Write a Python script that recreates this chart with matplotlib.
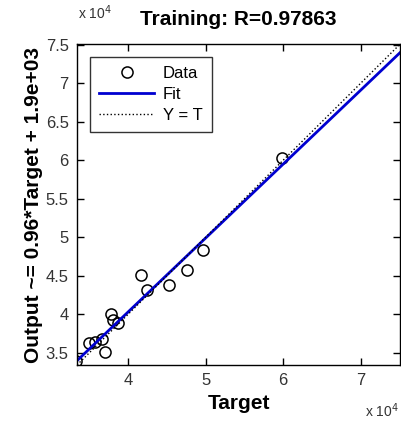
import matplotlib
matplotlib.use("Agg")
import matplotlib.pyplot as plt
import numpy as np
from matplotlib.ticker import FuncFormatter

plt.rcParams['font.family'] = ['Liberation Sans', 'DejaVu Sans']

# targets and network outputs
targets = [33300, 35000, 35700, 36600, 37000, 37750, 38000, 38700,
           41650, 42400, 45300, 47600, 49650, 59800]
outputs = [33900, 36300, 36400, 36800, 35100, 40000, 39200, 38900,
           45100, 43100, 43760, 45800, 48400, 60300]
slope = 0.96
offset = 1.9e3
r_value = 0.97863
lims = [33400, 75100]
xticks = [40000, 50000, 60000, 70000]
yticks = [35000, 40000, 45000, 50000, 55000, 60000, 65000, 70000, 75000]

fig = plt.figure(figsize=(4.01, 4.23), dpi=100)
ax = fig.add_axes([0.192, 0.137, 0.806, 0.759])

line_x = np.array(lims)
ax.plot(targets, outputs, 'o', mfc='none', mec='black', ms=8, mew=1.1, label='Data')
ax.plot(line_x, slope * line_x + offset, color='#0000d0', lw=2, label='Fit')
ax.plot(line_x, line_x, ':', color='black', lw=1, label='Y = T')

ax.set_xlim(lims)
ax.set_ylim(lims)
ax.set_xticks(xticks)
ax.set_yticks(yticks)
fmt = FuncFormatter(lambda v, p: '%g' % (v / 1e4))
ax.xaxis.set_major_formatter(fmt)
ax.yaxis.set_major_formatter(fmt)
ax.tick_params(direction='in', top=True, right=True, length=5, width=1,
               labelsize=12, colors='black', labelcolor='#333333', pad=6)
for s in ax.spines.values():
    s.set_linewidth(1)

ax.set_title('Training: R=%.5f' % r_value, fontsize=15, fontweight='bold', pad=14)
ax.set_xlabel('Target', fontsize=15, fontweight='bold', labelpad=4)
ax.set_ylabel('Output ~= %.2g*Target + %.1e' % (slope, offset), fontsize=15,
              fontweight='bold', labelpad=2)

fig.text(0.195, 0.97, r'x 10$^4$', fontsize=10, color='#333333', ha='left', va='center')
fig.text(0.995, 0.03, r'x 10$^4$', fontsize=10, color='#333333', ha='right', va='center')

leg = ax.legend(loc='upper left', fontsize=12, frameon=True, fancybox=False,
                edgecolor='black', borderpad=0.55, handlelength=3.3, labelspacing=0.35,
                handletextpad=0.5, bbox_to_anchor=(0.015, 0.985))
leg.get_frame().set_linewidth(1)

fig.savefig('out.png', dpi=100)
